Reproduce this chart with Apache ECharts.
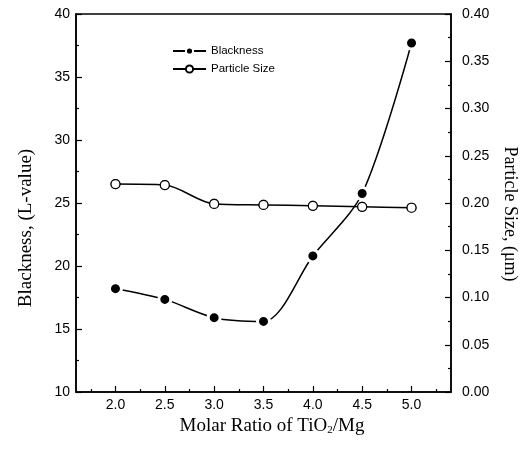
<!DOCTYPE html>
<html>
<head>
<meta charset="utf-8">
<script src="https://cdn.jsdelivr.net/npm/echarts@6/dist/echarts.min.js"></script>
<style>html,body{margin:0;padding:0;background:#fff}#c{width:529px;height:461px}</style>
</head>
<body>
<div id="c"></div>
<script>
// ---- data ----
const ratios = [2.0, 2.5, 3.0, 3.5, 4.0, 4.5, 5.0];
const blackness = [18.2, 17.35, 15.9, 15.6, 20.8, 25.75, 37.7];
const particleSize = [0.220, 0.219, 0.199, 0.198, 0.197, 0.196, 0.195];
const xMajorTicks = [2.0, 2.5, 3.0, 3.5, 4.0, 4.5, 5.0];
const xMinorTicks = [1.75, 2.25, 2.75, 3.25, 3.75, 4.25, 4.75, 5.25];

const pair = (xs, ys) => xs.map((x, i) => [x, ys[i]]);
const sans = 'Liberation Sans, Arial, sans-serif';
const serif = 'Liberation Serif, Times New Roman, serif';

const chart = echarts.init(document.getElementById('c'), null, {renderer: 'canvas'});
chart.setOption({
  animation: false,
  backgroundColor: '#fff',
  grid: {left: 76, right: 78, top: 14, bottom: 69, show: true, borderColor: '#000', borderWidth: 1.5, backgroundColor: 'transparent'},
  legend: {
    data: ['Blackness', 'Particle Size'],
    orient: 'vertical', left: 172, top: 45, itemGap: 6, padding: 0,
    itemWidth: 33, itemHeight: 9,
    textStyle: {fontFamily: sans, fontSize: 11.5, color: '#000'}
  },
  xAxis: [{
    type: 'value', min: 1.6, max: 5.4,
    name: 'Molar Ratio of TiO{sub|2}/Mg', nameLocation: 'middle', nameGap: 22,
    nameTextStyle: {fontFamily: serif, fontSize: 19, color: '#000', padding: [0, 0, 0, 17],
      rich: {sub: {fontFamily: serif, fontSize: 11, color: '#000', verticalAlign: 'bottom', padding: [8, 0, 0, 0]}}},
    axisLine: {show: true, lineStyle: {color: '#000', width: 1.5}},
    axisTick: {show: true, inside: true, length: 6, customValues: xMajorTicks, lineStyle: {color: '#000', width: 1.2}},
    axisLabel: {customValues: xMajorTicks, formatter: v => v.toFixed(1), fontFamily: sans, fontSize: 14, color: '#000', margin: 6},
    splitLine: {show: false}
  }, {
    type: 'value', min: 1.6, max: 5.4, position: 'bottom',
    axisLine: {show: false},
    axisTick: {show: true, inside: true, length: 3, customValues: xMinorTicks, lineStyle: {color: '#000', width: 1.2}},
    axisLabel: {show: false},
    splitLine: {show: false}
  }],
  yAxis: [{
    type: 'value', min: 10, max: 40, interval: 5, position: 'left',
    name: 'Blackness, (L-value)', nameLocation: 'middle', nameGap: 40, nameRotate: 90,
    nameTextStyle: {fontFamily: serif, fontSize: 19, color: '#000', padding: [0, 50, 0, 0]},
    axisLine: {show: true, lineStyle: {color: '#000', width: 1.5}},
    axisTick: {show: true, inside: true, length: 6, lineStyle: {color: '#000', width: 1.2}},
    minorTick: {show: true, splitNumber: 2, length: 3, lineStyle: {color: '#000', width: 1.2}},
    axisLabel: {fontFamily: sans, fontSize: 14, color: '#000', margin: 6},
    splitLine: {show: false}
  }, {
    type: 'value', min: 0, max: 0.4, interval: 0.05, position: 'right',
    name: 'Particle Size, (\u03bcm)', nameLocation: 'middle', nameGap: 50, nameRotate: -90,
    nameTextStyle: {fontFamily: serif, fontSize: 18, color: '#000', padding: [0, 0, 0, 22]},
    axisLine: {show: true, lineStyle: {color: '#000', width: 1.5}},
    axisTick: {show: true, inside: true, length: 6, lineStyle: {color: '#000', width: 1.2}},
    minorTick: {show: true, splitNumber: 2, length: 3, lineStyle: {color: '#000', width: 1.2}},
    axisLabel: {fontFamily: sans, fontSize: 14, color: '#000', margin: 11, formatter: v => v.toFixed(2)},
    splitLine: {show: false}
  }],
  series: [{
    name: 'Blackness', type: 'line', xAxisIndex: 0, yAxisIndex: 0,
    data: pair(ratios, blackness), smooth: 0.3,
    symbol: 'circle', symbolSize: 12,
    lineStyle: {color: '#000', width: 1.5},
    itemStyle: {color: '#000', borderColor: '#fff', borderWidth: 3}
  }, {
    name: 'Particle Size', type: 'line', xAxisIndex: 0, yAxisIndex: 1,
    data: pair(ratios, particleSize), smooth: 0.3,
    symbol: 'circle', symbolSize: 9,
    lineStyle: {color: '#000', width: 1.5},
    itemStyle: {color: '#fff', borderColor: '#000', borderWidth: 1.2}
  }, {
    name: 'halo', type: 'scatter', xAxisIndex: 0, yAxisIndex: 1,
    data: pair(ratios, particleSize), symbol: 'circle', symbolSize: 13,
    itemStyle: {color: '#fff'}, silent: true
  }, {
    name: 'psMarkers', type: 'scatter', xAxisIndex: 0, yAxisIndex: 1,
    data: pair(ratios, particleSize), symbol: 'circle', symbolSize: 9,
    itemStyle: {color: '#fff', borderColor: '#000', borderWidth: 1.2}, silent: true
  }]
});
</script>
</body>
</html>
